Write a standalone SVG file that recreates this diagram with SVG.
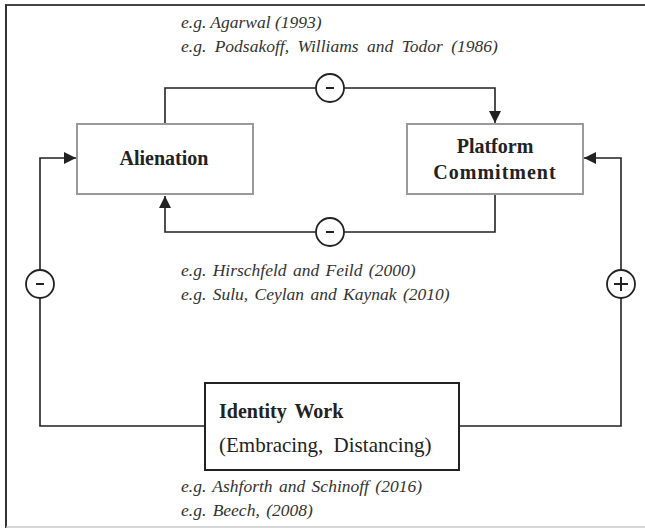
<svg xmlns="http://www.w3.org/2000/svg" width="645" height="528" viewBox="0 0 645 528">
<style>
.ref{font-family:"Liberation Serif","Times New Roman",serif;font-style:italic;font-size:17.5px;fill:#333}
.title{font-family:"Liberation Serif","Times New Roman",serif;font-weight:bold;font-size:20px;fill:#222;text-anchor:middle}
.sub{font-family:"Liberation Serif","Times New Roman",serif;font-size:21px;fill:#222}
.box{fill:#fff;stroke:#9a9a9a;stroke-width:2}
.ibox{fill:#fff;stroke:#222;stroke-width:2}
.conn{fill:none;stroke:#222;stroke-width:1.6}
.sign{fill:#fff;stroke:#222;stroke-width:1.8}
.mark{stroke:#222;stroke-width:2}
</style>
<defs>
<marker id="arr" markerUnits="userSpaceOnUse" markerWidth="12" markerHeight="12" viewBox="0 0 12 12" refX="12" refY="6" orient="auto">
<path d="M0,0 L12,6 L0,12 Z" fill="#222"/>
</marker>
</defs>
<rect width="645" height="528" fill="#fff"/>
<g id="frame">
<line x1="5" y1="5" x2="645" y2="5" stroke="#444" stroke-width="2"/>
<line x1="6" y1="5" x2="6" y2="528" stroke="#333" stroke-width="2"/>
<line x1="6" y1="527" x2="645" y2="527" stroke="#c8c8c8" stroke-width="1.5"/>
</g>
<g id="connectors">
<path class="conn" d="M165,124 V88 H495 V123" marker-end="url(#arr)"/>
<path class="conn" d="M495,195 V232 H165 V196" marker-end="url(#arr)"/>
<path class="conn" d="M205,426 H40 V158 H76" marker-end="url(#arr)"/>
<path class="conn" d="M459,426 H621 V158 H584" marker-end="url(#arr)"/>
</g>
<g id="sign-top">
<circle class="sign" cx="330" cy="88" r="14"/>
<line class="mark" x1="326" y1="88" x2="334" y2="88" stroke-width="3"/>
</g>
<g id="sign-mid">
<circle class="sign" cx="330" cy="232" r="14"/>
<line class="mark" x1="326" y1="232" x2="334" y2="232" stroke-width="3"/>
</g>
<g id="sign-left">
<circle class="sign" cx="40" cy="284" r="14"/>
<line class="mark" x1="36" y1="284" x2="44" y2="284" stroke-width="3"/>
</g>
<g id="sign-right">
<circle class="sign" cx="621" cy="284" r="14"/>
<line class="mark" x1="614" y1="284" x2="628" y2="284" stroke-width="1.8"/>
<line class="mark" x1="621" y1="277" x2="621" y2="291" stroke-width="1.8"/>
</g>
<g id="alienation">
<rect class="box" x="77" y="124" width="176" height="70"/>
<text class="title" x="164" y="165">Alienation</text>
</g>
<g id="platform-commitment">
<rect class="box" x="407" y="124" width="176" height="70"/>
<text class="title" x="495" y="153">Platform</text>
<text class="title" x="495" y="179" letter-spacing="1">Commitment</text>
</g>
<g id="identity-work">
<rect class="ibox" x="205" y="383" width="254" height="87"/>
<text class="title" x="219" y="418" style="text-anchor:start" word-spacing="3">Identity Work</text>
<text class="sub" x="219" y="452" word-spacing="5">(Embracing, Distancing)</text>
</g>
<g id="refs">
<text class="ref" x="181" y="28">e.g. Agarwal (1993)</text>
<text class="ref" x="181" y="52" word-spacing="4">e.g. Podsakoff, Williams and Todor (1986)</text>
<text class="ref" x="181" y="276" word-spacing="2">e.g. Hirschfeld and Feild (2000)</text>
<text class="ref" x="181" y="300" word-spacing="2">e.g. Sulu, Ceylan and Kaynak (2010)</text>
<text class="ref" x="181" y="492" word-spacing="2">e.g. Ashforth and Schinoff (2016)</text>
<text class="ref" x="181" y="516" word-spacing="2">e.g. Beech, (2008)</text>
</g>
</svg>
